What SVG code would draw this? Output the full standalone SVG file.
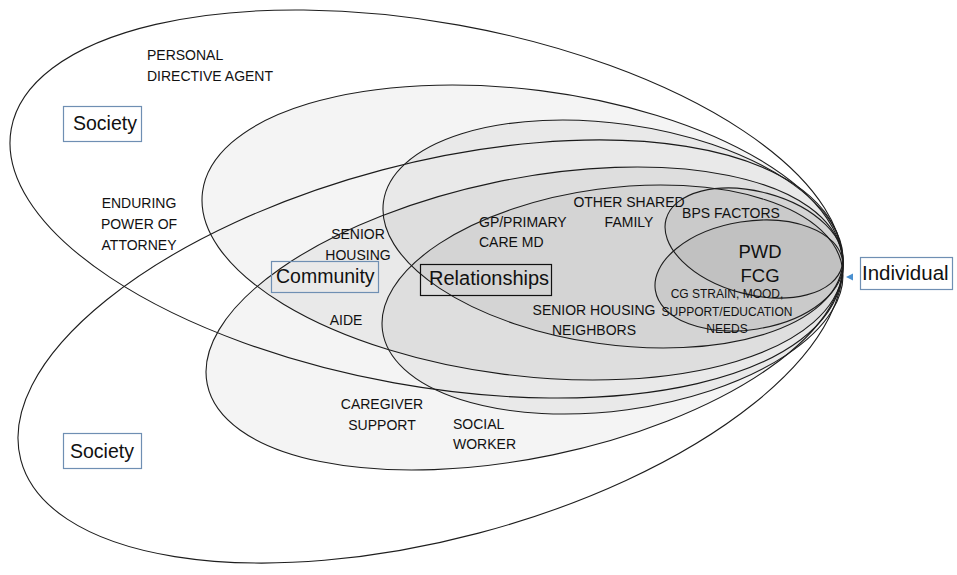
<svg xmlns="http://www.w3.org/2000/svg" width="957" height="575" viewBox="0 0 957 575">
<style>
.ring{stroke:#1e1e1e;stroke-width:1.1;}
.open{fill:none;}
.shade{fill:#000;fill-opacity:0.045;}
.lbl{font-family:"Liberation Sans",Arial,sans-serif;font-size:14px;fill:#111;}
.mid{text-anchor:middle;}
.big{font-family:"Liberation Sans",Arial,sans-serif;font-size:19.5px;fill:#111;}
.box{fill:none;stroke:#6f8fb3;stroke-width:1.2;}
</style>
<rect width="957" height="575" fill="#fff"/>
<g id="society-top">
<ellipse class="ring open" cx="426.5" cy="204" rx="422" ry="181.8" transform="rotate(10.26 426.5 204)"/>
<text class="lbl" x="147" y="60">PERSONAL</text>
<text class="lbl" x="147" y="81">DIRECTIVE AGENT</text>
<rect class="box" x="63.5" y="106.5" width="78" height="35"/>
<text class="big" x="73" y="130">Society</text>
<text class="lbl mid" x="139" y="208">ENDURING</text>
<text class="lbl mid" x="139" y="229">POWER OF</text>
<text class="lbl mid" x="139" y="250">ATTORNEY</text>
</g>
<g id="society-bottom">
<ellipse class="ring open" cx="430.5" cy="351.5" rx="423.8" ry="187.9" transform="rotate(-14.82 430.5 351.5)"/>
<rect class="box" x="63.5" y="433.5" width="78" height="35"/>
<text class="big" x="70" y="458">Society</text>
</g>
<g id="community-top">
<ellipse class="ring shade" cx="522.5" cy="232.5" rx="322.55" ry="142.96" transform="rotate(7.21 522.5 232.5)"/>
<text class="lbl mid" x="358" y="239">SENIOR</text>
<text class="lbl mid" x="358" y="260">HOUSING</text>
</g>
<g id="community-bottom">
<ellipse class="ring shade" cx="524.5" cy="318.5" rx="324" ry="139.3" transform="rotate(-11.74 524.5 318.5)"/>
<rect class="box" x="271.5" y="261.5" width="107" height="31"/>
<text class="big" x="276" y="283">Community</text>
<text class="lbl mid" x="346" y="325">AIDE</text>
<text class="lbl mid" x="382" y="409">CAREGIVER</text>
<text class="lbl mid" x="382" y="430">SUPPORT</text>
<text class="lbl" x="453" y="429">SOCIAL</text>
<text class="lbl" x="453" y="449">WORKER</text>
</g>
<g id="relationships-top">
<ellipse class="ring shade" cx="613" cy="234" rx="231.8" ry="110.4" transform="rotate(8.04 613 234)"/>
<text class="lbl" x="479" y="227">GP/PRIMARY</text>
<text class="lbl" x="479" y="247">CARE MD</text>
<text class="lbl mid" x="629" y="207">OTHER SHARED</text>
<text class="lbl mid" x="629" y="227">FAMILY</text>
</g>
<g id="relationships-bottom">
<ellipse class="ring shade" cx="612.5" cy="299.5" rx="232.1" ry="111.2" transform="rotate(-7.73 612.5 299.5)"/>
<rect x="420.5" y="264.5" width="131" height="31" fill="none" stroke="#111" stroke-width="1.2"/>
<text class="big" x="429" y="285" style="font-size:20px">Relationships</text>
<text class="lbl mid" x="594" y="315">SENIOR HOUSING</text>
<text class="lbl mid" x="594" y="335">NEIGHBORS</text>
</g>
<g id="individual-top">
<ellipse class="ring shade" cx="754" cy="243" rx="91.1" ry="51.4" transform="rotate(15.1 754 243)"/>
<text class="lbl mid" x="731" y="218">BPS FACTORS</text>
</g>
<g id="individual-bottom">
<ellipse class="ring shade" cx="749" cy="275.5" rx="94.8" ry="54.1" transform="rotate(-9.04 749 275.5)"/>
<text class="lbl mid" x="727" y="298" style="font-size:12px">CG STRAIN, MOOD,</text>
<text class="lbl mid" x="727" y="316" style="font-size:12px">SUPPORT/EDUCATION</text>
<text class="lbl mid" x="727" y="333" style="font-size:12px">NEEDS</text>
</g>
<g id="core">
<text class="big mid" x="760" y="258" style="font-size:18.5px">PWD</text>
<text class="big mid" x="760" y="282" style="font-size:18.5px">FCG</text>
</g>
<g id="individual">
<rect class="box" x="860.5" y="257.5" width="92" height="32"/>
<text class="big" x="862" y="280" style="font-size:20.5px">Individual</text>
</g>
<g id="connectors">
<polygon points="846,277 853,273.5 853,280.5" fill="#4a90d0"/>
</g>
</svg>
